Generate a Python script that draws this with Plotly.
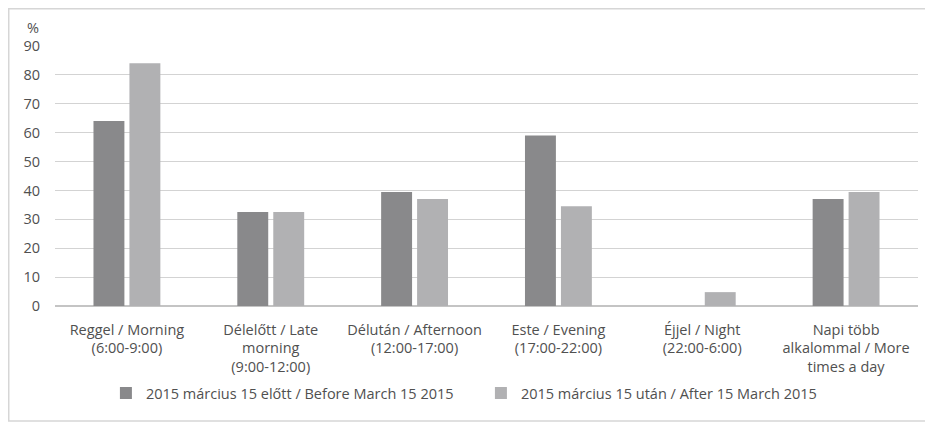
import plotly.graph_objects as go

categories = [
    "Reggel / Morning<br>(6:00-9:00)",
    "Délelőtt / Late<br>morning<br>(9:00-12:00)",
    "Délután / Afternoon<br>(12:00-17:00)",
    "Este / Evening<br>(17:00-22:00)",
    "Éjjel / Night<br>(22:00-6:00)",
    "Napi több<br>alkalommal / More<br>times a day",
]
before_name = "2015 március 15 előtt / Before March 15 2015"
after_name = "2015 március 15 után / After 15 March 2015"
before_values = [64, 32.5, 39.5, 59, 0, 37]
after_values = [84, 32.5, 37, 34.5, 4.8, 39.5]
y_ticks = [0, 10, 20, 30, 40, 50, 60, 70, 80, 90]

FONT = "Open Sans"
TXT = "#505050"
FS = 14.5

fig = go.Figure()
fig.add_trace(go.Bar(x=categories, y=before_values, name=before_name,
                     marker=dict(color="#89898b", line=dict(width=0))))
fig.add_trace(go.Bar(x=categories, y=after_values, name=after_name,
                     marker=dict(color="#b1b1b3", line=dict(width=0))))

# the page body adds an 8px offset, so the figure is 8px smaller than the window
fig.update_layout(
    width=925, height=416,
    margin=dict(l=47, r=15, t=38, b=118, autoexpand=False),
    paper_bgcolor="white", plot_bgcolor="white",
    barmode="group", bargap=0.5, bargroupgap=0.14,
    font=dict(family=FONT, size=FS, color=TXT),
    showlegend=True,
    legend=dict(orientation="h", x=0.059, xanchor="left", y=-0.335, yanchor="middle",
                font=dict(family=FONT, size=FS, color=TXT), itemwidth=30,
                entrywidth=330, entrywidthmode="pixels",
                traceorder="normal"),
    xaxis=dict(showgrid=False, showline=False, ticks="", tickangle=0, automargin=False,
               ticklabelstandoff=13,
               tickfont=dict(family=FONT, size=FS, color=TXT)),
    yaxis=dict(range=[0, 90], tickvals=y_ticks, showgrid=True, gridcolor="#d3d3d3",
               gridwidth=1.2, zeroline=True, zerolinecolor="#c4c4c4", zerolinewidth=1.5,
               showline=False, ticks="", ticklabelstandoff=14, automargin=False,
               tickfont=dict(family=FONT, size=FS, color=TXT)),
    annotations=[dict(text="%", xref="paper", yref="paper", x=-0.025, y=1.073,
                      showarrow=False, xanchor="center", yanchor="middle",
                      font=dict(family=FONT, size=FS, color=TXT))],
    shapes=[dict(type="rect", xref="paper", yref="paper", x0=-0.0536, x1=1.03,
                 y0=-0.442, y1=1.1433, line=dict(color="#d6d6d6", width=1.5))],
)

fig.write_html("out.html")
